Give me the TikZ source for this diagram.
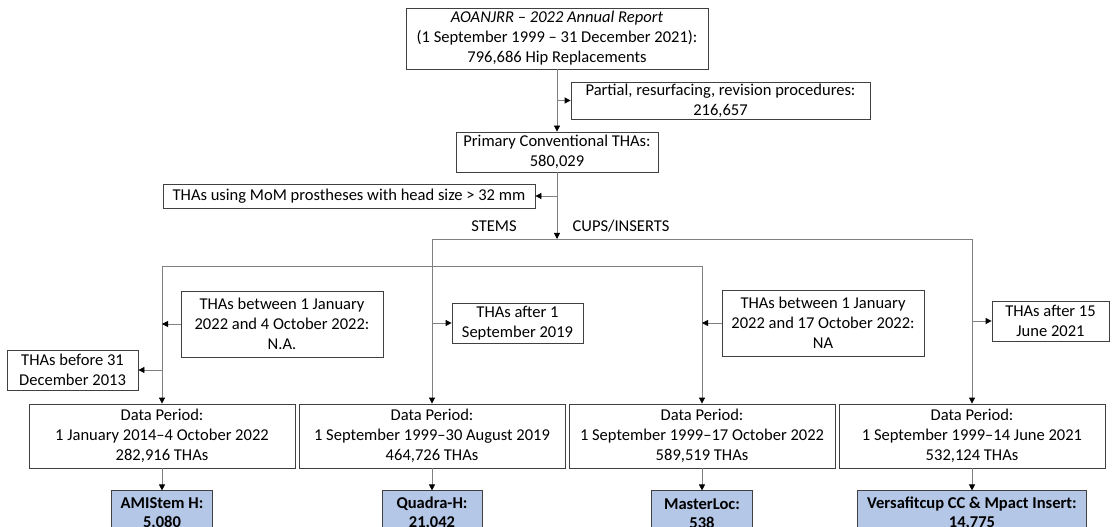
\documentclass[tikz,border=0pt]{standalone}
\usepackage{fontspec}
\setmainfont{Carlito}
\usetikzlibrary{arrows.meta,positioning}

\definecolor{devblue}{RGB}{180,199,231}

\begin{document}
\begin{tikzpicture}[
  x=0.75pt, y=-0.75pt,
  box/.style={draw=black!75, line width=0.6pt, align=center, inner sep=1pt,
    font=\fontsize{12.4}{15}\selectfont},
  period/.style={box, minimum width=199.5pt, minimum height=48pt},
  device/.style={box, fill=devblue, minimum height=34pt,
    font=\fontsize{12.4}{14.5}\selectfont\bfseries},
  label/.style={font=\fontsize{12.4}{15}\selectfont, inner sep=0pt},
  line/.style={draw=black!50, line width=0.6pt},
  arr/.style={line, -{Triangle[length=4.5pt, width=4.5pt, black]}}
]
  \useasboundingbox (0,0) rectangle (1117,527);
  \clip (0,0) rectangle (1117,527);

  % source and first exclusions
  \node[box, minimum width=226.5pt, minimum height=45.75pt] (report) at (557,38.5)
    {\textit{AOANJRR – 2022 Annual Report}\\(1 September 1999 – 31 December 2021):\\
     796,686 Hip Replacements};
  \node[box, minimum width=224.25pt, minimum height=27.75pt] (partial) at (720.5,100.5)
    {Partial, resurfacing, revision procedures:\\216,657};
  \node[box, minimum width=151.5pt, minimum height=30pt] (primary) at (557,152)
    {Primary Conventional THAs:\\580,029};
  \node[box, minimum width=279pt, minimum height=18pt] (mom) at (349,196)
    {THAs using MoM prostheses with head size > 32 mm};
  \node[label] (stems) at (494,226) {STEMS};
  \node[label] (cups) at (621,226) {CUPS/INSERTS};
  \coordinate (split) at (557,239);
  \coordinate (fork) at (432,266);

  % data periods
  \node[period] (per1) at (162,436)
    {Data Period:\\1 January 2014–4 October 2022\\282,916 THAs};
  \node[period] (per2) at (432,436)
    {Data Period:\\1 September 1999–30 August 2019\\464,726 THAs};
  \node[period] (per3) at (702,436)
    {Data Period:\\1 September 1999–17 October 2022\\589,519 THAs};
  \node[period] (per4) at (972,436)
    {Data Period:\\1 September 1999–14 June 2021\\532,124 THAs};

  % excluded periods
  \node[box, minimum width=98.25pt, minimum height=30pt] (before) at (72.5,370)
    {THAs before 31\\December 2013};
  \node[box, minimum width=151.5pt, minimum height=49.5pt] (between1) at (282,324)
    {THAs between 1 January\\2022 and 4 October 2022:\\N.A.};
  \node[box, minimum width=98.25pt, minimum height=30pt] (after1) at (517.5,323)
    {THAs after 1\\September 2019};
  \node[box, minimum width=151.5pt, minimum height=49.5pt] (between2) at (823,323)
    {THAs between 1 January\\2022 and 17 October 2022:\\NA};
  \node[box, minimum width=87.75pt, minimum height=30pt] (after2) at (1050.5,321)
    {THAs after 15\\June 2021};

  % devices
  \node[device, minimum width=75.75pt] (amistem) at (162,513.5) {AMIStem H:\\5,080};
  \node[device, minimum width=75pt] (quadra) at (432,513.5) {Quadra-H:\\21,042};
  \node[device, minimum width=75.75pt] (masterloc) at (702,513.5) {MasterLoc:\\538};
  \node[device, minimum width=171.75pt] (versafit) at (972,513.5)
    {Versafitcup CC \& Mpact Insert:\\14,775};

  % connectors
  \draw[arr] (report) -- (primary);
  \draw[arr] (partial.west -| report.south) -- (partial.west);
  \draw[arr] (primary) -- (split);
  \draw[arr] (mom.east -| primary.south) -- (mom.east);
  \draw[line] (per2 |- split) -- (per4 |- split);
  \draw[line] (per1 |- fork) -- (per3 |- fork);
  \draw[arr] (per2 |- split) -- (per2);
  \draw[arr] (per4 |- split) -- (per4);
  \draw[arr] (per1 |- fork) -- (per1);
  \draw[arr] (per3 |- fork) -- (per3);
  \draw[arr] (before.east -| per1) -- (before.east);
  \draw[arr] (between1.west) -- (between1.west -| per1);
  \draw[arr] (after1.west -| per2) -- (after1.west);
  \draw[arr] (between2.west) -- (between2.west -| per3);
  \draw[arr] (after2.west -| per4) -- (after2.west);
  \foreach \p/\d in {per1/amistem, per2/quadra, per3/masterloc, per4/versafit}
    \draw[arr] (\p) -- (\d);
\end{tikzpicture}
\end{document}
